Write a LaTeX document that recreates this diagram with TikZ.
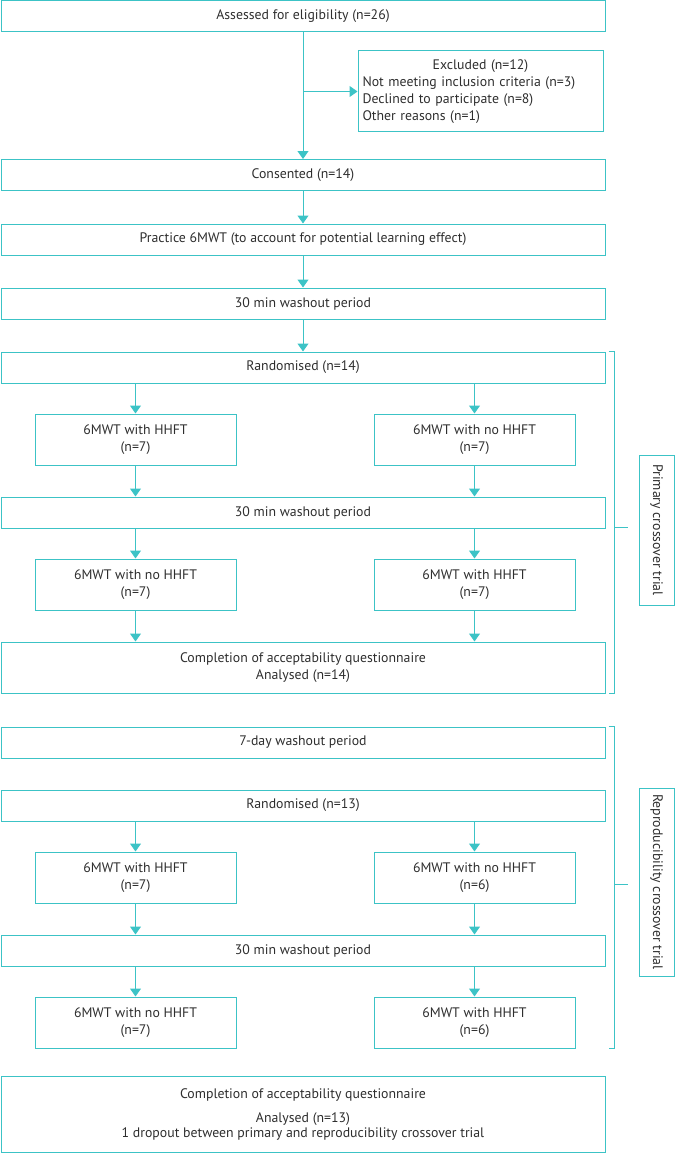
\documentclass[tikz,border=0pt]{standalone}
\usepackage{fontspec}
\setmainfont{PT Sans}
\usetikzlibrary{arrows.meta,positioning}
\definecolor{flowteal}{HTML}{3CC3C6}
\definecolor{flowtext}{HTML}{2E2E2E}

\begin{document}
\begin{tikzpicture}[x=1pt, y=-1pt, >={Triangle[width=11pt,length=8pt]},
	box/.style={draw=flowteal, line width=1pt, text=flowtext, inner sep=0pt, align=center,
		font=\fontsize{13.8}{17}\selectfont},
	wide/.style={box, minimum width=604pt, minimum height=31pt},
	arm/.style={box, minimum width=201pt, minimum height=51pt},
	link/.style={flowteal, line width=1pt, ->},
	frame/.style={flowteal, line width=1pt},
	trial/.style={box, rotate=-90, minimum height=35pt}]
	\useasboundingbox (0,0) rectangle (675,1153);

	% --- 1. ENROLMENT ---
	\node[wide] (assessed) at (303,16) {Assessed for eligibility (n=26)};
	\node[box, minimum width=245pt, minimum height=81pt, text width=236pt, align=left] (excluded) at (480.5,91.5)
		{{\centering Excluded (n=12)\par}Not meeting inclusion criteria (n=3)\\Declined to participate (n=8)\\Other reasons (n=1)};
	\node[wide] (consented) at (303,175) {Consented (n=14)};
	\node[wide] (practice) at (303,239.5) {Practice 6MWT (to account for potential learning effect)};
	\node[wide] (washA) at (303,303.5) {30 min washout period};

	\draw[link] (assessed) -- (consented);
	\draw[link] (assessed.south |- excluded.west) -- (excluded.west);
	\draw[link] (consented) -- (practice);
	\draw[link] (practice) -- (washA);

	% --- 2. PRIMARY CROSSOVER ---
	\node[wide] (randA) at (303,367.5) {Randomised (n=14)};
	\node[arm] (hhftA) at (135.5,439.5) {6MWT with HHFT\\(n=7)};
	\node[arm] (nohhftA) at (474.5,439.5) {6MWT with no HHFT\\(n=7)};
	\node[wide] (washB) at (303,512.5) {30 min washout period};
	\node[arm] (nohhftB) at (135.5,584.5) {6MWT with no HHFT\\(n=7)};
	\node[arm] (hhftB) at (474.5,584.5) {6MWT with HHFT\\(n=7)};
	\node[wide, minimum height=51pt] (compA) at (303,667.5) {Completion of acceptability questionnaire\\Analysed (n=14)};

	\draw[link] (washA) -- (randA);
	\foreach \arm/\next in {hhftA/washB, nohhftA/washB, nohhftB/compA, hhftB/compA} {
		\draw[link] (\arm.south) -- (\arm.south |- \next.north);
	}
	\foreach \arm/\prev in {hhftA/randA, nohhftA/randA, nohhftB/washB, hhftB/washB} {
		\draw[link] (\arm.north |- \prev.south) -- (\arm.north);
	}

	% --- 3. REPRODUCIBILITY CROSSOVER ---
	\node[wide] (washC) at (303,742.5) {7-day washout period};
	\node[wide] (randB) at (303,805.5) {Randomised (n=13)};
	\node[arm] (hhftC) at (135.5,877.5) {6MWT with HHFT\\(n=7)};
	\node[arm] (nohhftC) at (474.5,877.5) {6MWT with no HHFT\\(n=6)};
	\node[wide] (washD) at (303,950.5) {30 min washout period};
	\node[arm] (nohhftD) at (135.5,1022.5) {6MWT with no HHFT\\(n=7)};
	\node[arm] (hhftD) at (474.5,1022.5) {6MWT with HHFT\\(n=6)};
	\node[wide, minimum height=76pt, font=\fontsize{13.8}{15}\selectfont] (compB) at (303,1114)
		{Completion of acceptability questionnaire\\[9pt]Analysed (n=13)\\1 dropout between primary and reproducibility crossover trial};

	\foreach \arm/\prev in {hhftC/randB, nohhftC/randB, nohhftD/washD, hhftD/washD} {
		\draw[link] (\arm.north |- \prev.south) -- (\arm.north);
	}
	\draw[link] (hhftC.south) -- (hhftC.south |- washD.north);
	\draw[link] (nohhftC.south) -- (nohhftC.south |- washD.north);

	% --- 4. BRACKETS & TRIAL LABELS ---
	\node[trial, minimum width=150pt] (primlab) at (656.5,530) {Primary crossover trial};
	\node[trial, minimum width=188pt] (reprlab) at (656.5,882) {Reproducibility crossover trial};

	\coordinate (tickA) at (628,527);
	\coordinate (tickB) at (628,884);
	\draw[frame] ([xshift=3pt]randA.north east) -- ++(6,0) |- ([xshift=3pt]compA.south east);
	\draw[frame] (tickA -| 614,0) -- (tickA);
	\draw[frame] ([xshift=3pt]washC.north east) -- ++(6,0) |- ([xshift=3pt]nohhftD.south -| compA.east);
	\draw[frame] (tickB -| 614,0) -- (tickB);
\end{tikzpicture}
\end{document}
